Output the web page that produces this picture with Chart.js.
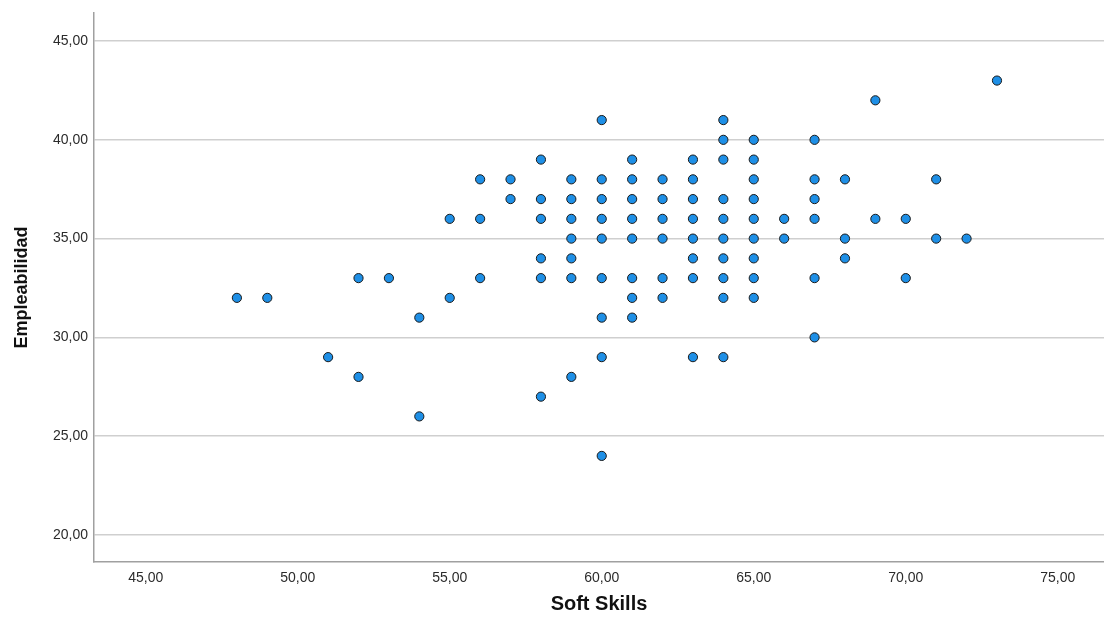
<!DOCTYPE html>
<html>
<head>
<meta charset="utf-8">
<script src="https://cdn.jsdelivr.net/npm/chart.js@4"></script>
<style>
  body { margin: 0; background: #fff; }
  #wrap { width: 1104px; height: 624px; }
</style>
</head>
<body>
<div id="wrap"><canvas id="scatter" width="1104" height="624"></canvas></div>
<script>
// Soft Skills (x) values, one per column of points
const softSkills = [48, 49, 51, 52, 53, 54, 55, 56, 57, 58, 59, 60, 61, 62, 63, 64, 65, 66, 67, 68, 69, 70, 71, 72, 73];
// Empleabilidad (y) values found in each column
const empleabilidad = [
  [32],
  [32],
  [29],
  [33, 28],
  [33],
  [31, 26],
  [36, 32],
  [38, 36, 33],
  [38, 37],
  [39, 37, 36, 34, 33, 27],
  [38, 37, 36, 35, 34, 33, 28],
  [41, 38, 37, 36, 35, 33, 31, 29, 24],
  [39, 38, 37, 36, 35, 33, 32, 31],
  [38, 37, 36, 35, 33, 32],
  [39, 38, 37, 36, 35, 34, 33, 29],
  [41, 40, 39, 37, 36, 35, 34, 33, 32, 29],
  [40, 39, 38, 37, 36, 35, 34, 33, 32],
  [36, 35],
  [40, 38, 37, 36, 33, 30],
  [38, 35, 34],
  [42, 36],
  [36, 33],
  [38, 35],
  [35],
  [43]
];
// tick labels
const xTicks = [45, 50, 55, 60, 65, 70, 75];
const yTicks = [20, 25, 30, 35, 40, 45];

const points = [];
softSkills.forEach((x, i) => {
  empleabilidad[i].forEach(y => points.push({ x: x, y: y }));
});

// formato con coma decimal
const fmt = v => Number(v).toFixed(2).replace('.', ',');

const tickFont = { family: '"Liberation Sans", Arial, sans-serif', size: 14 };

new Chart(document.getElementById('scatter'), {
  type: 'scatter',
  data: {
    datasets: [{
      data: points,
      pointRadius: 4.6,
      pointHoverRadius: 4.6,
      backgroundColor: '#1e8fe6',
      borderColor: '#1a1a1a',
      borderWidth: 1
    }]
  },
  options: {
    responsive: false,
    animation: false,
    layout: { autoPadding: false, padding: { top: 13, right: 0, left: 0, bottom: 0 } },
    plugins: {
      legend: { display: false },
      tooltip: { enabled: false }
    },
    scales: {
      x: {
        type: 'linear',
        min: 43.3,
        max: 76.52,
        afterBuildTicks: s => { s.ticks = xTicks.map(v => ({ value: v })); },
        afterFit: s => {
          s.height = 62;
          s.paddingLeft = 0;
          s.paddingRight = 0;
        },
        grid: { display: false, drawTicks: false },
        border: { display: true, color: '#a0a0a0', width: 1.5 },
        ticks: {
          autoSkip: false,
          maxRotation: 0,
          padding: 8,
          color: '#2b2b2b',
          font: tickFont,
          callback: v => fmt(v)
        },
        title: {
          display: true,
          text: 'Soft Skills',
          color: '#111',
          font: { family: '"Liberation Sans", Arial, sans-serif', size: 20, weight: 'bold' },
          padding: { top: 0, bottom: 8 }
        }
      },
      y: {
        type: 'linear',
        min: 18.63,
        max: 46.42,
        afterBuildTicks: s => { s.ticks = yTicks.map(v => ({ value: v })); },
        afterFit: s => {
          s.width = 94;
          s.paddingTop = 0;
          s.paddingBottom = 0;
        },
        grid: { display: true, color: '#cfcfcf', lineWidth: 1.5, drawTicks: false },
        border: { display: true, color: '#a0a0a0', width: 1.5 },
        ticks: {
          padding: 6,
          color: '#2b2b2b',
          font: tickFont,
          callback: v => fmt(v)
        },
        title: {
          display: true,
          text: 'Empleabilidad',
          color: '#111',
          font: { family: '"Liberation Sans", Arial, sans-serif', size: 18, weight: 'bold' },
          padding: { top: 11, bottom: 0 }
        }
      }
    }
  }
});
</script>
</body>
</html>
